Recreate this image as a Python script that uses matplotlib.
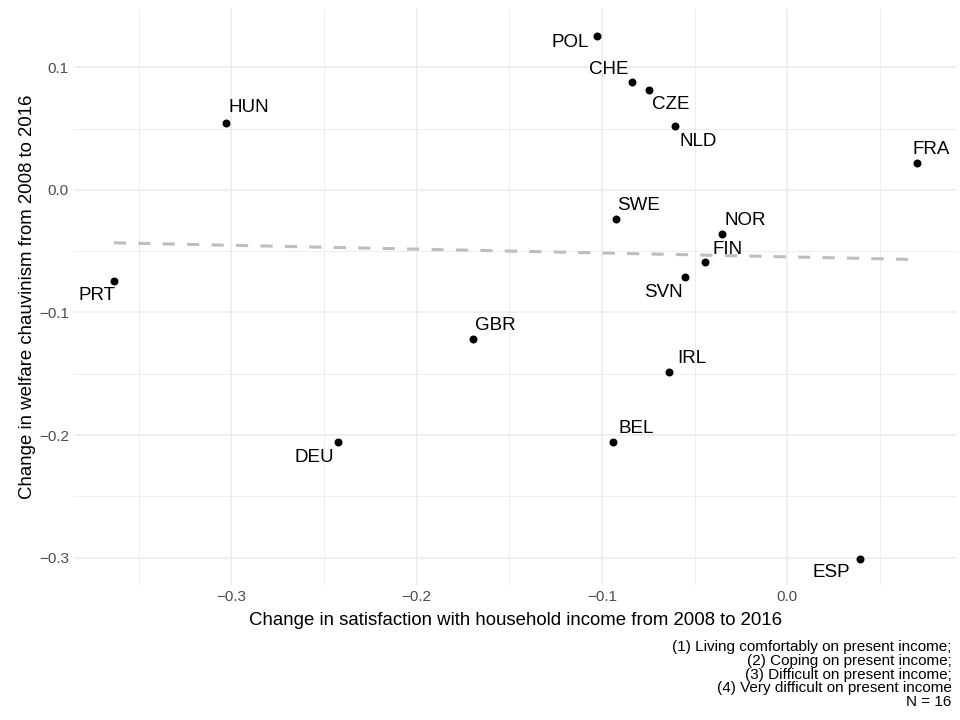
import numpy as np
import matplotlib.pyplot as plt

plt.rcParams['font.family'] = ['Liberation Sans', 'DejaVu Sans']

countries = ['HUN', 'PRT', 'POL', 'CHE', 'CZE', 'NLD', 'FRA', 'SWE',
             'NOR', 'FIN', 'SVN', 'GBR', 'DEU', 'IRL', 'BEL', 'ESP']
income_change = [-0.3028, -0.3634, -0.1027, -0.0840, -0.0745, -0.0604, 0.0700, -0.0924,
                 -0.0351, -0.0446, -0.0550, -0.1698, -0.2425, -0.0637, -0.0941, 0.0390]
chauvinism_change = [0.0547, -0.0740, 0.1259, 0.0881, 0.0818, 0.0519, 0.0220, -0.0237,
                     -0.0362, -0.0587, -0.0712, -0.1218, -0.2055, -0.1482, -0.2058, -0.3010]

# label offsets (points) and alignment, repel-style
label_pos = {
    'HUN': (1.5, 11, 'left'), 'PRT': (-12, -11, 'center'), 'POL': (-6, -5, 'right'),
    'CHE': (-2, 9, 'right'), 'CZE': (2, -11, 'left'), 'NLD': (3, -11, 'left'),
    'FRA': (-3, 10, 'left'), 'SWE': (1, 9.5, 'left'), 'NOR': (1.5, 10, 'left'),
    'FIN': (6, 9, 'left'), 'SVN': (-2, -11, 'right'), 'GBR': (1.5, 10, 'left'),
    'DEU': (-3, -11, 'right'), 'IRL': (6, 9.5, 'left'), 'BEL': (4, 9.5, 'left'),
    'ESP': (-7, -9.5, 'right'),
}

fig = plt.figure(figsize=(9.6, 7.2), dpi=100)
ax = fig.add_axes([0.0767, 0.1875, 0.9203, 0.7995])

x = np.array(income_change)
y = np.array(chauvinism_change)

slope, intercept = np.polyfit(x, y, 1)
xs = np.array([x.min(), x.max()])
ax.plot(xs, intercept + slope * xs, color='#BEBEBE', lw=2.2, dashes=(4, 4), zorder=2)

ax.scatter(x, y, s=33, color='black', zorder=3, linewidths=0)

for c, xv, yv in zip(countries, x, y):
    dx, dy, ha = label_pos[c]
    ax.annotate(c, (xv, yv), xytext=(dx, dy), textcoords='offset points',
                ha=ha, va='center', fontsize=13.5, color='black', zorder=4)

rx = x.max() - x.min()
ry = y.max() - y.min()
ax.set_xlim(x.min() - 0.05 * rx, x.max() + 0.05 * rx)
ax.set_ylim(y.min() - 0.05 * ry, y.max() + 0.05 * ry)

ax.set_xticks([-0.3, -0.2, -0.1, 0.0])
ax.set_xticklabels(['\u22120.3', '\u22120.2', '\u22120.1', '0.0'])
ax.set_yticks([-0.3, -0.2, -0.1, 0.0, 0.1])
ax.set_yticklabels(['\u22120.3', '\u22120.2', '\u22120.1', '0.0', '0.1'])
ax.set_xticks([-0.35, -0.25, -0.15, -0.05, 0.05], minor=True)
ax.set_yticks([-0.25, -0.15, -0.05, 0.05], minor=True)

ax.grid(True, which='major', color='#EBEBEB', lw=1.1)
ax.grid(True, which='minor', color='#EBEBEB', lw=0.6)
ax.set_axisbelow(True)
for s in ax.spines.values():
    s.set_visible(False)
ax.tick_params(which='both', length=0, labelsize=11, labelcolor='#4D4D4D', pad=3.5)

ax.set_xlabel('Change in satisfaction with household income from 2008 to 2016', fontsize=13.4, labelpad=6)
ax.set_ylabel('Change in welfare chauvinism from 2008 to 2016', fontsize=13.4, labelpad=2)

caption = ('(1) Living comfortably on present income;\n(2) Coping on present income;\n'
           '(3) Difficult on present income;\n(4) Very difficult on present income\nN = 16')
fig.text(0.9915, 0.111, caption, ha='right', va='top', fontsize=11, linespacing=0.98)

fig.savefig('out.png', dpi=100)
